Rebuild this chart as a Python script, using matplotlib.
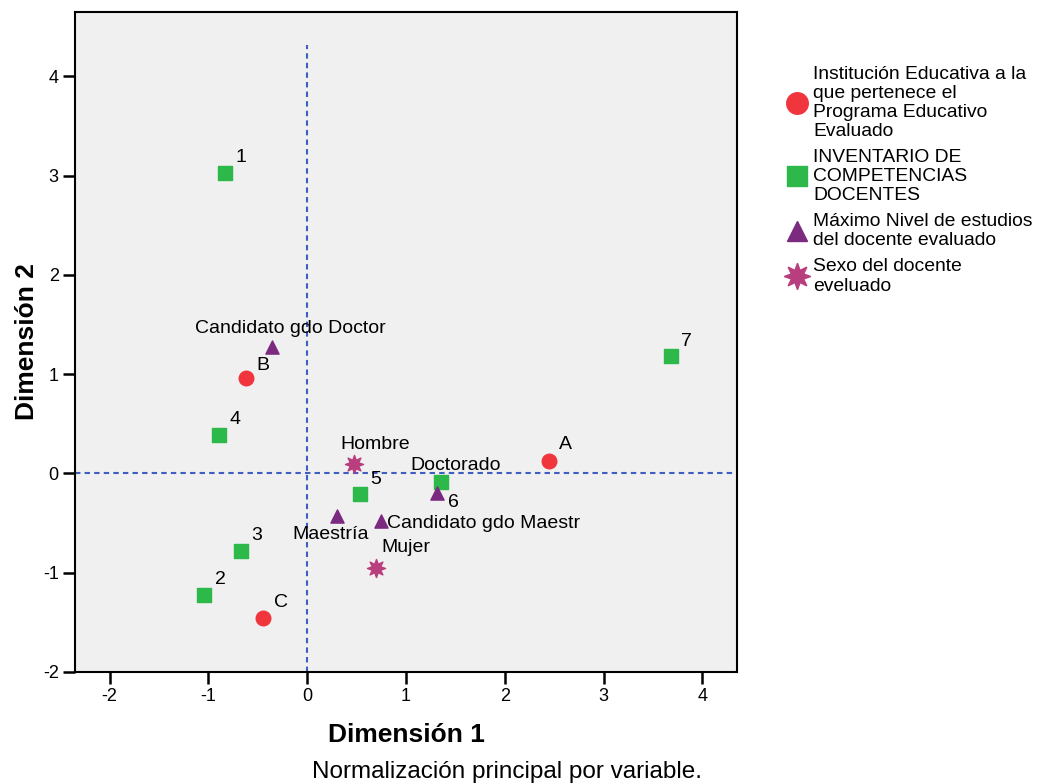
import matplotlib
matplotlib.use("Agg")
import matplotlib.pyplot as plt
from matplotlib.lines import Line2D

plt.rcParams["font.family"] = ["Liberation Sans", "DejaVu Sans"]
plt.rcParams["axes.unicode_minus"] = False

# ── Data ─────────────────────────────────────────────────────────────────────
inst_labels = ["A", "B", "C"]
inst_x = [2.45, -0.62, -0.45]
inst_y = [0.13, 0.96, -1.46]

comp_labels = ["1", "2", "3", "4", "5", "6", "7"]
comp_x = [-0.83, -1.04, -0.67, -0.89, 0.53, 1.35, 3.68]
comp_y = [3.03, -1.22, -0.78, 0.39, -0.21, -0.09, 1.18]

nivel_labels = ["Candidato gdo Doctor", "Maestría", "Candidato gdo Maestr", "Doctorado"]
nivel_x = [-0.36, 0.30, 0.75, 1.31]
nivel_y = [1.27, -0.43, -0.48, -0.20]

sexo_labels = ["Hombre", "Mujer"]
sexo_x = [0.47, 0.70]
sexo_y = [0.09, -0.95]

legend_labels = [
    "Institución Educativa a la\nque pertenece el\nPrograma Educativo\nEvaluado",
    "INVENTARIO DE\nCOMPETENCIAS\nDOCENTES",
    "Máximo Nivel de estudios\ndel docente evaluado",
    "Sexo del docente\neveluado",
]

RED = "#F0353D"
GREEN = "#2DB84A"
PURPLE = "#7B2A80"
PINK = "#B83E7E"
BLUE = "#3F5FC0"

fig = plt.figure(figsize=(10.41, 7.84), dpi=100)
ax = fig.add_axes([0.072, 0.1429, 0.636, 0.842])
ax.set_facecolor("#F0F0F0")

ax.set_xlim(-2.35, 4.35)
ax.set_ylim(-2.0, 4.65)

# reference lines
dash = (0, (2.6, 2.0))
ax.plot([0, 0], [-2.0, 4.32], color=BLUE, linestyle=dash, linewidth=1.5, zorder=1)
ax.axhline(0, color=BLUE, linestyle=dash, linewidth=1.5, zorder=1)

ax.scatter(inst_x, inst_y, marker="o", s=110, color=RED, zorder=3)
ax.scatter(comp_x, comp_y, marker="s", s=105, color=GREEN, zorder=3)
ax.scatter(nivel_x, nivel_y, marker="^", s=90, color=PURPLE, zorder=4)
ax.scatter(sexo_x, sexo_y, marker=(8, 1, 0), s=170, color=PINK, zorder=3)

fs = 14
# point labels, centred at an offset (points) from each marker
inst_off = [(11.5, 11.5), (12.2, 9.4), (13, 11.5)]
for lab, x, y, off in zip(inst_labels, inst_x, inst_y, inst_off):
    ax.annotate(lab, (x, y), xytext=off, textcoords="offset points",
                ha="center", va="center", fontsize=fs)

comp_off = [(11.5, 10.8)] * 5 + [(9.4, -14.4), (11.5, 10.8)]
for lab, x, y, off in zip(comp_labels, comp_x, comp_y, comp_off):
    ax.annotate(lab, (x, y), xytext=off, textcoords="offset points",
                ha="center", va="center", fontsize=fs)

nivel_off = [(13.7, 13.7), (-4.3, -13.0), (4.3, -1.4), (13.7, 20.0)]
nivel_ha = ["center", "center", "left", "center"]
for lab, x, y, off, ha in zip(nivel_labels, nivel_x, nivel_y, nivel_off, nivel_ha):
    ax.annotate(lab, (x, y), xytext=off, textcoords="offset points",
                ha=ha, va="center", fontsize=fs)

sexo_off = [(15.8, 14.4), (21.6, 14.4)]
for lab, x, y, off in zip(sexo_labels, sexo_x, sexo_y, sexo_off):
    ax.annotate(lab, (x, y), xytext=off, textcoords="offset points",
                ha="center", va="center", fontsize=fs)

ax.set_xticks([-2, -1, 0, 1, 2, 3, 4])
ax.set_yticks([-2, -1, 0, 1, 2, 3, 4])
ax.tick_params(axis="both", length=8.6, width=1.8, labelsize=13, pad=3)
for sp in ax.spines.values():
    sp.set_linewidth(1.5)

ax.set_xlabel("Dimensión 1", fontsize=19, fontweight="bold", va="center")
ax.xaxis.set_label_coords(0.5, -0.0955)
ax.set_ylabel("Dimensión 2", fontsize=19, fontweight="bold", va="center")
ax.yaxis.set_label_coords(-0.0725, 0.5)

fig.text(0.487, 0.0153, "Normalización principal por variable.", ha="center",
         va="center", fontsize=17.5)

handles = [
    Line2D([], [], marker="o", color=RED, linestyle="none", markersize=15.5),
    Line2D([], [], marker="s", color=GREEN, linestyle="none", markersize=14.5),
    Line2D([], [], marker="^", color=PURPLE, linestyle="none", markersize=14),
    Line2D([], [], marker=(8, 1, 0), color=PINK, linestyle="none", markersize=19),
]
leg = fig.legend(handles, legend_labels, loc="upper left", bbox_to_anchor=(0.749, 0.926),
                 frameon=False, fontsize=13.9, handlelength=1.0, handletextpad=0.35,
                 labelspacing=0.47, borderaxespad=0)
for t in leg.get_texts():
    t.set_linespacing(1.16)

fig.savefig("out.png", dpi=100)
